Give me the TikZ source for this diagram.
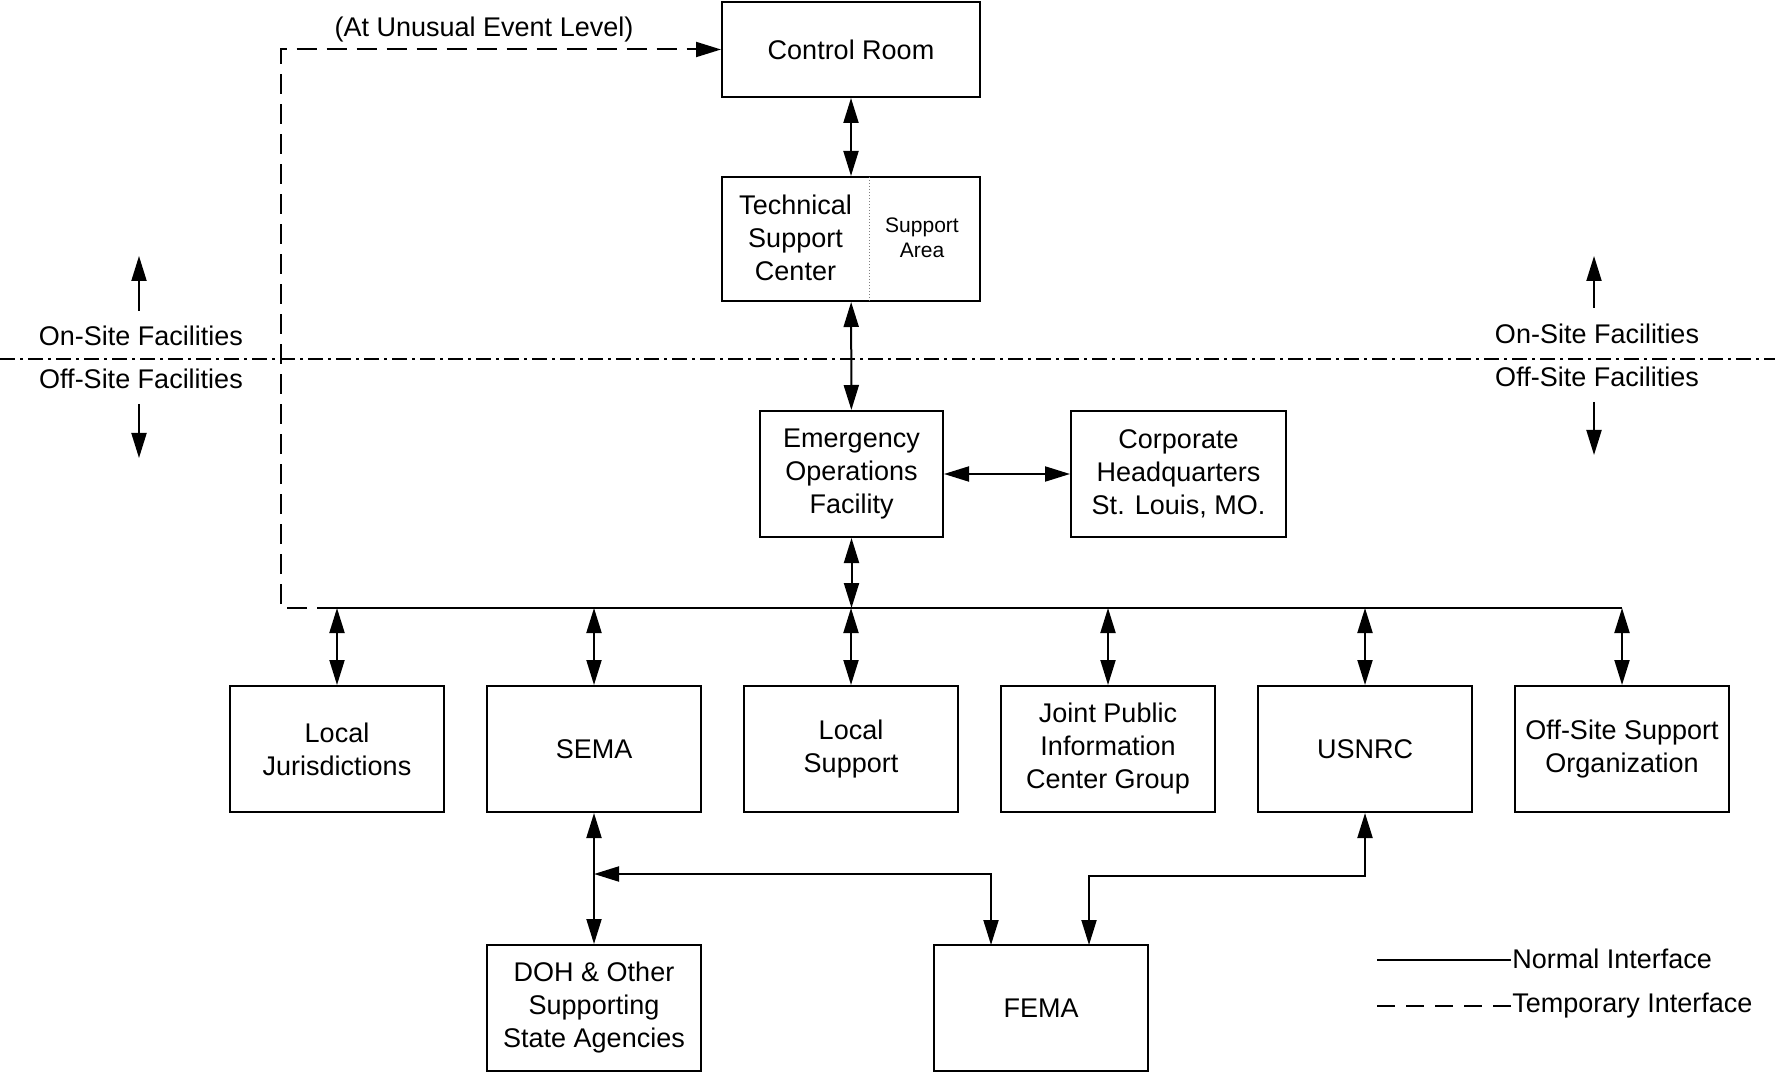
\documentclass[tikz,border=0pt]{standalone}
\usepackage{fontspec}
\setmainfont{Liberation Sans}
\usetikzlibrary{arrows.meta}
\begin{document}
\begin{tikzpicture}[x=0.5pt,y=-0.5pt,
 box/.style={draw,line width=1pt,inner sep=0pt,align=center,font=\fontsize{13.5}{16.5}\selectfont,minimum width=107pt,minimum height=63pt},
 lbl/.style={inner sep=0pt,align=center,font=\fontsize{13.5}{16.5}\selectfont},
 smalllbl/.style={inner sep=0pt,align=center,font=\fontsize{10.5}{12.5}\selectfont},
 conn/.style={line width=1pt},
 arrowone/.style={conn,-{Triangle[length=12.5pt,width=7.5pt]}},
 arrowtwo/.style={conn,{Triangle[length=12.5pt,width=7.5pt]}-{Triangle[length=12.5pt,width=7.5pt]}},
 tempo/.style={line width=1pt,dash pattern=on 10pt off 5pt},
 sitebound/.style={line width=1pt,dash pattern=on 7.5pt off 2.5pt on 1.5pt off 2.5pt}]
\useasboundingbox (0,0) rectangle (1775,1074);

% top boxes
\node[box,minimum width=129pt,minimum height=47.5pt] (cr) at (851,49.5) {Control Room};
\node[box,minimum width=129pt,minimum height=62pt] (tsc) at (851,239) {};
\node[lbl] (tsct) at (795.5,238) {Technical\\Support\\Center};
\node[smalllbl] (tsca) at (922,238) {Support\\Area};
\coordinate (divt) at (869,177);
\coordinate (divb) at (869,301);
\draw[line width=0.5pt,densely dotted,gray] (divt) -- (divb);

\node[box,minimum width=91.5pt] (eof) at (851.5,474) {Emergency\\Operations\\Facility};
\node[box,minimum width=107.5pt] (chq) at (1178.5,474) {Corporate\\Headquarters\\St. Louis, MO.};

% bottom row
\node[box] (lj) at (337,749) {Local\\Jurisdictions};
\node[box] (sema) at (594,749) {SEMA};
\node[box] (ls) at (851,749) {Local\\Support};
\node[box] (jpic) at (1108,749) {Joint Public\\Information\\Center Group};
\node[box] (nrc) at (1365,749) {USNRC};
\node[box] (osso) at (1622,749) {Off-Site Support\\Organization};

\node[box] (doh) at (594,1008) {DOH \& Other\\Supporting\\State Agencies};
\node[box] (fema) at (1041,1008) {FEMA};

% site boundary
\coordinate (sbl) at (0,359);
\coordinate (sbr) at (1775,359);
\draw[sitebound] (sbl) -- (sbr);

\node[lbl] (onl) at (141,336) {On-Site Facilities};
\node[lbl] (offl) at (141,379) {Off-Site Facilities};
\node[lbl] (onr) at (1597,334) {On-Site Facilities};
\node[lbl] (offr) at (1597,377) {Off-Site Facilities};
\coordinate (ul1) at (139,311); \coordinate (ul2) at (139,256);
\coordinate (dl1) at (139,404); \coordinate (dl2) at (139,458);
\coordinate (ur1) at (1594,308); \coordinate (ur2) at (1594,256);
\coordinate (dr1) at (1594,402); \coordinate (dr2) at (1594,455);
\draw[arrowone] (ul1) -- (ul2);
\draw[arrowone] (dl1) -- (dl2);
\draw[arrowone] (ur1) -- (ur2);
\draw[arrowone] (dr1) -- (dr2);

% main connectors
\draw[arrowtwo] (cr) -- (tsc);
\draw[arrowtwo] (tsc) -- (eof);
\draw[arrowtwo] (eof) -- (chq);

% bus
\coordinate (busl) at (337,608);
\coordinate (busr) at (1622,608);
\coordinate (dashc) at (281,608);
\draw[line width=1.2pt] (busl) -- (busr);
\draw[arrowtwo] (eof.south) -- (eof.south |- busl);
\foreach \b in {lj,sema,ls,jpic,nrc,osso}{
  \draw[arrowtwo] (\b.north |- busl) -- (\b.north);
}

% temporary interface
\draw[tempo,-{Triangle[length=12.5pt,width=7.5pt]}] (busl) -- (dashc) |- (cr.west);
\node[lbl] (unusual) at (484,30) {(At Unusual Event Level)};

% lower connectors
\draw[arrowtwo] (sema) -- (doh);
\coordinate (semaj) at (594,874);
\coordinate (femal) at (991,945);
\coordinate (femar) at (1089,945);
\draw[arrowtwo] (semaj) -| (femal);
\draw[arrowtwo] (nrc.south) |- ([yshift=-0.1pt]femar |- 0,876) -- (femar);

% legend
\coordinate (l1a) at (1377,960); \coordinate (l1b) at (1511,960);
\coordinate (l2a) at (1377,1006); \coordinate (l2b) at (1512,1006);
\draw[conn] (l1a) -- (l1b);
\draw[line width=1pt,dash pattern=on 9pt off 5.5pt] (l2a) -- (l2b);
\node[lbl,anchor=west] (leg1) at (1512,959) {Normal Interface};
\node[lbl,anchor=west] (leg2) at (1512,1006) {Temporary Interface};
\end{tikzpicture}
\end{document}
